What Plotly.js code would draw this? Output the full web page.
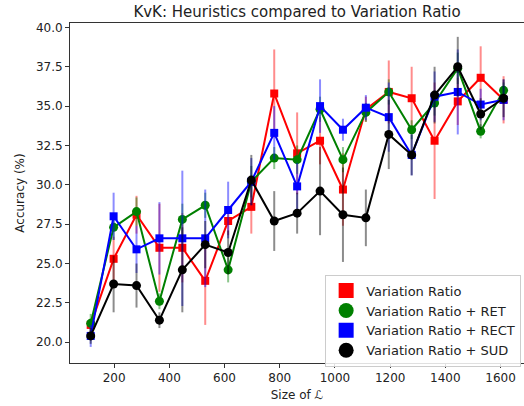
<!DOCTYPE html>
<html>
<head>
<meta charset="utf-8">
<script src="https://cdn.plot.ly/plotly-3.0.1.min.js"></script>
<style>html,body{margin:0;padding:0;background:#fff}#chart{width:524px;height:406px}</style>
</head>
<body>
<div id="chart"></div>
<script>
const sizes = [115, 198, 281, 364, 447, 530, 613, 697, 780, 863, 946, 1029, 1112, 1195, 1278, 1361, 1445, 1528, 1611];

const vr     = [21.1, 25.3, 28.1, 26.0, 26.0, 23.9, 27.7, 28.6, 35.8, 32.0, 32.8, 29.7, 34.8, 35.9, 35.5, 32.8, 35.3, 36.8, 35.4];
const vrErr  = [0.4, 1.4, 1.2, 2.8, 2.2, 2.8, 0.9, 1.7, 2.8, 2.6, 1.5, 2.3, 0.8, 2.0, 2.0, 3.7, 1.5, 2.0, 1.5];

const ret    = [21.2, 27.3, 28.3, 22.6, 27.8, 28.7, 24.6, 30.2, 31.7, 31.6, 34.8, 31.6, 34.6, 35.9, 33.5, 35.2, 37.4, 33.4, 36.0];
const retErr = [0.6, 0.8, 0.9, 0.5, 1.0, 0.8, 0.8, 1.0, 0.7, 0.9, 0.8, 0.8, 0.6, 0.8, 0.6, 0.8, 1.0, 0.45, 0.5];

const rect   = [20.4, 28.0, 25.9, 26.6, 26.6, 26.6, 28.4, 30.2, 33.3, 29.9, 35.0, 33.5, 34.9, 34.3, 31.9, 35.6, 35.9, 35.1, 35.4];
const rectErr= [0.7, 1.5, 1.5, 2.3, 4.3, 3.1, 1.8, 1.5, 1.7, 1.5, 1.7, 0.7, 0.8, 2.2, 1.3, 1.6, 2.7, 1.0, 1.3];

const sud    = [20.4, 23.7, 23.6, 21.4, 24.6, 26.2, 25.7, 30.3, 27.7, 28.2, 29.6, 28.1, 27.9, 33.2, 31.9, 35.7, 37.5, 34.5, 35.5];
const sudErr = [0.5, 1.8, 1.4, 0.5, 2.7, 1.5, 1.4, 1.6, 1.9, 1.3, 2.8, 3.0, 1.8, 2.2, 1.3, 1.8, 1.9, 1.0, 1.2];

const names = ['Variation Ratio', 'Variation Ratio + RET', 'Variation Ratio + RECT', 'Variation Ratio + SUD'];
const yvals = [vr, ret, rect, sud];
const errs = [vrErr, retErr, rectErr, sudErr];
const colors = ['#ff0000', '#008000', '#0000ff', '#000000'];
const errColors = ['rgba(255,0,0,0.45)', 'rgba(0,128,0,0.45)', 'rgba(0,0,255,0.45)', 'rgba(0,0,0,0.45)'];
const symbols = ['square', 'circle', 'square', 'circle'];
const msize = [8, 9, 8, 9];

const traces = [];
for (let i = 0; i < 4; i++) {
  traces.push({
    x: sizes, y: yvals[i], type: 'scatter', mode: 'lines+markers',
    name: names[i], showlegend: false,
    line: {color: colors[i], width: 2},
    marker: {color: colors[i], symbol: symbols[i], size: msize[i]},
    error_y: {type: 'data', array: errs[i], visible: true, color: errColors[i], thickness: 2, width: 0}
  });
}
for (let i = 0; i < 4; i++) {
  traces.push({
    x: [null], y: [null], type: 'scatter', mode: 'markers', name: names[i], showlegend: true,
    marker: {color: colors[i], symbol: symbols[i], size: 15}
  });
}

const fontFam = 'DejaVu Sans, sans-serif';
const layout = {
  width: 524, height: 406,
  margin: {l: 70, r: 0, t: 23, b: 43, autoexpand: false},
  paper_bgcolor: '#fff', plot_bgcolor: '#fff',
  font: {family: fontFam, size: 12, color: '#222'},
  title: {text: 'KvK: Heuristics compared to Variation Ratio', x: 0.5, xref: 'paper', xanchor: 'center',
          y: 0.97, yref: 'container', yanchor: 'middle', font: {family: fontFam, size: 15, color: '#222'}},
  xaxis: {
    range: [40, 1685], tick0: 0, dtick: 200, showgrid: false, zeroline: false,
    showline: true, linecolor: '#333', linewidth: 1, mirror: true,
    ticks: 'outside', ticklen: 4, tickcolor: '#333',
    tickfont: {family: fontFam, size: 12, color: '#222'},
    title: {text: 'Size of ℒ', font: {family: fontFam, size: 12, color: '#222'}, standoff: 6}
  },
  yaxis: {
    range: [18.68, 40.28], tick0: 0, dtick: 2.5, tickformat: '.1f', showgrid: false, zeroline: false,
    showline: true, linecolor: '#333', linewidth: 1, mirror: true,
    ticks: 'outside', ticklen: 4, tickcolor: '#333',
    tickfont: {family: fontFam, size: 12, color: '#222'},
    title: {text: 'Accuracy (%)', font: {family: fontFam, size: 12, color: '#222'}, standoff: 8}
  },
  legend: {
    x: 0.562, y: 0.26, xanchor: 'left', yanchor: 'top',
    bgcolor: 'rgba(255,255,255,0.85)', bordercolor: '#cccccc', borderwidth: 1,
    font: {family: fontFam, size: 13, color: '#222'}
  }
};

Plotly.newPlot('chart', traces, layout, {displayModeBar: false, staticPlot: true});
</script>
</body>
</html>
